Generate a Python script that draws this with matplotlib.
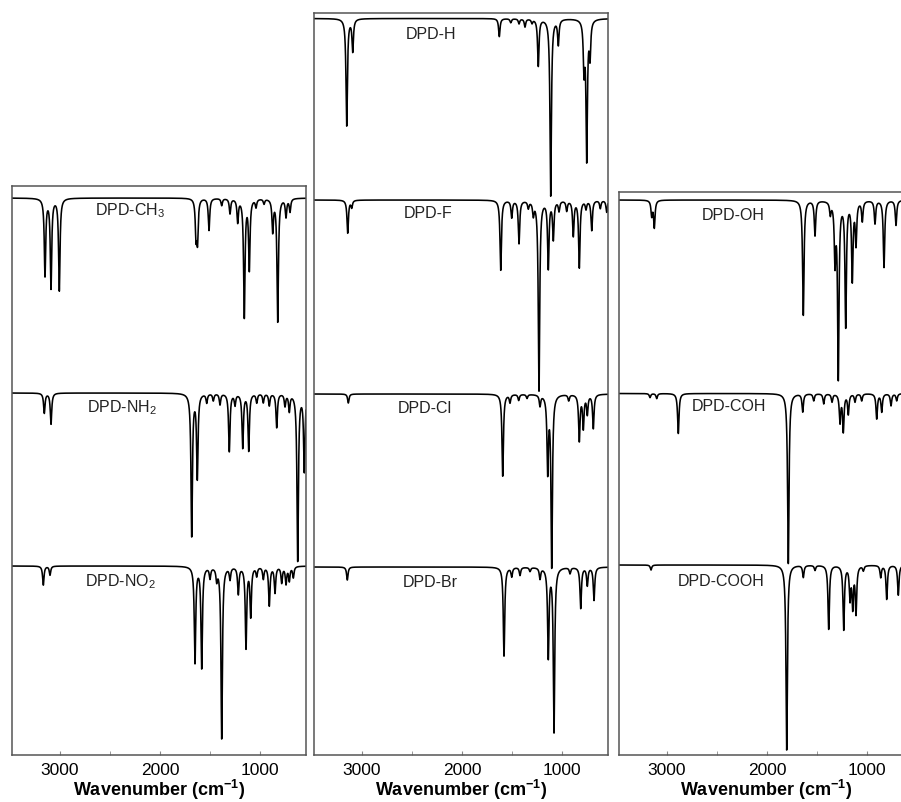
import numpy as np
import matplotlib
matplotlib.use("Agg")
import matplotlib.pyplot as plt

plt.rcParams['font.family'] = ['Liberation Sans', 'DejaVu Sans']
plt.rcParams['mathtext.fontset'] = 'custom'
plt.rcParams['mathtext.rm'] = 'Liberation Sans'
plt.rcParams['mathtext.bf'] = 'Liberation Sans:bold'

# ---------------- data: peak positions (cm-1) and relative depths ----------------
ch3_pos = [3150, 3090, 3007, 1640, 1625, 1510, 1383, 1300, 1223, 1157, 1107, 1040, 960, 873, 823, 740, 700]
ch3_int = [77, 89, 92, 36, 40, 32, 7, 15, 23, 118, 70, 8, 5, 32, 123, 18, 13]

nh2_pos = [3157, 3090, 1683, 1627, 1533, 1467, 1400, 1307, 1250, 1173, 1113, 1033, 967, 907, 833, 750, 707, 623, 557]
nh2_int = [20, 31, 142, 84, 9, 7, 11, 58, 11, 54, 57, 9, 9, 12, 34, 12, 17, 167, 77]

no2_pos = [3167, 3100, 1650, 1583, 1500, 1433, 1383, 1300, 1217, 1140, 1093, 1033, 967, 907, 850, 783, 740, 707, 667]
no2_int = [19, 9, 96, 101, 11, 12, 172, 12, 27, 81, 49, 9, 12, 39, 26, 16, 17, 14, 11]

h_pos = [3153, 3093, 1627, 1513, 1430, 1370, 1300, 1237, 1113, 1037, 780, 753, 720]
h_int = [107, 32, 18, 4, 5, 8, 4, 47, 177, 25, 48, 138, 35]

f_pos = [3143, 3103, 1613, 1503, 1430, 1337, 1287, 1230, 1137, 1087, 1030, 953, 887, 827, 760, 703, 617, 553]
f_int = [33, 7, 70, 17, 43, 7, 13, 190, 67, 38, 10, 10, 35, 67, 8, 30, 8, 12]

cl_pos = [3137, 1593, 1520, 1433, 1350, 1220, 1143, 1103, 933, 827, 787, 747, 687]
cl_int = [9, 82, 8, 6, 4, 11, 75, 171, 6, 46, 33, 19, 34]

br_pos = [3147, 1580, 1503, 1420, 1320, 1220, 1137, 1080, 920, 813, 747, 680]
br_int = [13, 89, 9, 8, 4, 11, 89, 164, 6, 41, 18, 33]

oh_pos = [3153, 3127, 1637, 1520, 1367, 1320, 1287, 1213, 1147, 1110, 1047, 920, 830, 710]
oh_int = [15, 27, 115, 35, 12, 58, 175, 124, 78, 42, 20, 23, 67, 25]

coh_pos = [3170, 3103, 2887, 1787, 1643, 1533, 1433, 1350, 1270, 1237, 1187, 1120, 1053, 903, 853, 760, 703]
coh_int = [4, 5, 40, 170, 18, 7, 10, 8, 28, 37, 20, 8, 7, 25, 18, 12, 7]

cooh_pos = [3160, 1803, 1637, 1520, 1383, 1233, 1170, 1143, 1110, 1037, 863, 803, 687]
cooh_int = [5, 185, 12, 5, 64, 64, 32, 40, 47, 5, 12, 34, 30]

labels_left = [r"DPD-CH$_\mathregular{3}$", r"DPD-NH$_\mathregular{2}$", r"DPD-NO$_\mathregular{2}$"]
labels_mid = ["DPD-H", "DPD-F", "DPD-Cl", "DPD-Br"]
labels_right = ["DPD-OH", "DPD-COH", "DPD-COOH"]
tick_vals = [3000, 2000, 1000]
minor_vals = [2500, 1500]

# ---------------- layout ----------------
W, H = 901, 802
XL = (3480, 540)
GAMMA = 8.5
wn = np.linspace(XL[0], XL[1], 8000)


def spectrum(pos, inten):
    y = np.zeros_like(wn)
    for p, a in zip(pos, inten):
        y += a * GAMMA ** 2 / ((wn - p) ** 2 + GAMMA ** 2)
    return y


fig = plt.figure(figsize=(W / 100, H / 100), dpi=100)

panels = [
    dict(box=(12, 186, 306, 755), spectra=[(ch3_pos, ch3_int), (nh2_pos, nh2_int), (no2_pos, no2_int)],
         base=[198, 393, 566], labels=labels_left, lab_x=[95, 87, 85], lab_y=[211, 408, 582]),
    dict(box=(314, 13, 608, 755), spectra=[(h_pos, h_int), (f_pos, f_int), (cl_pos, cl_int), (br_pos, br_int)],
         base=[18.5, 200, 394, 567], labels=labels_mid, lab_x=[406, 404, 398, 403], lab_y=[35, 214, 409, 583]),
    dict(box=(619, 192, 913, 755), spectra=[(oh_pos, oh_int), (coh_pos, coh_int), (cooh_pos, cooh_int)],
         base=[200, 393.5, 565], labels=labels_right, lab_x=[702, 692, 678], lab_y=[215, 406, 581]),
]

for pnl in panels:
    x0, y0, x1, y1 = pnl['box']
    ax = fig.add_axes([x0 / W, 1 - y1 / H, (x1 - x0) / W, (y1 - y0) / H])
    ax.set_xlim(*XL)
    ax.set_ylim(y1, y0)
    for (pos, inten), b in zip(pnl['spectra'], pnl['base']):
        ax.plot(wn, b + spectrum(pos, inten), color='black', lw=1.15, solid_joinstyle='round')
    for lab, lx, ly in zip(pnl['labels'], pnl['lab_x'], pnl['lab_y']):
        xd = XL[0] - (lx - x0) * (XL[0] - XL[1]) / (x1 - x0)
        ax.text(xd, ly, lab, ha='left', va='center', fontsize=11.5, color='#222222')
    ax.set_xticks(tick_vals)
    ax.set_xticks(minor_vals, minor=True)
    ax.set_xticklabels([str(v) for v in tick_vals])
    ax.set_yticks([])
    ax.tick_params(axis='x', which='both', direction='in', length=3, color='#888888',
                   labelsize=12.5, pad=6)
    for s in ax.spines.values():
        s.set_color('#555555')
        s.set_linewidth(1.1)
    ax.set_xlabel(r"Wavenumber (cm$^{\mathbf{-1}}$)", fontsize=13, fontweight='bold', labelpad=0)

fig.savefig("out.png", dpi=100)
